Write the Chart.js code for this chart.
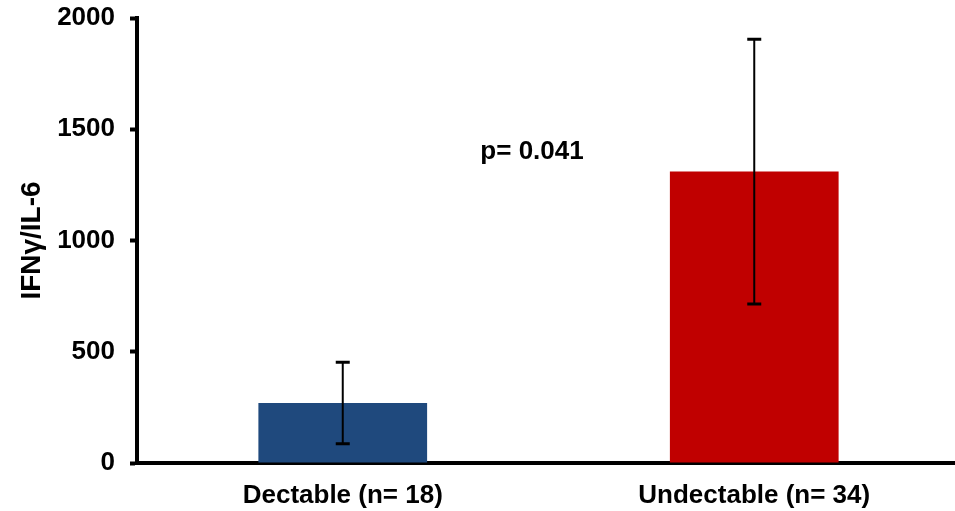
<!DOCTYPE html>
<html>
<head>
<meta charset="utf-8">
<script src="https://cdn.jsdelivr.net/npm/chart.js@4"></script>
<style>
  html, body { margin: 0; padding: 0; background: #fff; overflow: hidden; }
  #wrap { width: 960px; height: 511px; }
</style>
</head>
<body>
<div id="wrap"><canvas id="myChart"></canvas></div>
<script>
const groups = ['Dectable (n= 18)', 'Undectable (n= 34)']
const ratio = [270, 1310]
const ratioErr = [183, 595]
const barColors = ['#1F497D', '#C00000']
const yTicks = [0, 500, 1000, 1500, 2000]
const pLabel = 'p= 0.041'

const fontFamily = '"Liberation Sans", Arial, sans-serif'
const ctx = document.getElementById('myChart')

// whiskers on top of each bar
const errorBars = {
  id: 'errorBars',
  afterDatasetsDraw(chart) {
    const c = chart.ctx
    const y = chart.scales.y
    chart.getDatasetMeta(0).data.forEach((bar, i) => {
      const hi = y.getPixelForValue(ratio[i] + ratioErr[i])
      const lo = y.getPixelForValue(ratio[i] - ratioErr[i])
      c.save()
      c.strokeStyle = '#000'
      c.lineWidth = 2
      c.beginPath()
      c.moveTo(bar.x, hi)
      c.lineTo(bar.x, lo)
      c.stroke()
      c.lineWidth = 3
      c.beginPath()
      c.moveTo(bar.x - 7, hi)
      c.lineTo(bar.x + 7, hi)
      c.moveTo(bar.x - 7, lo)
      c.lineTo(bar.x + 7, lo)
      c.stroke()
      c.restore()
    })
  },
}

// significance text between the groups
const pValue = {
  id: 'pValue',
  afterDraw(chart) {
    const c = chart.ctx
    const x = chart.scales.x.getPixelForValue(0.46)
    const y = chart.scales.y.getPixelForValue(1400)
    c.save()
    c.font = 'bold 26px ' + fontFamily
    c.fillStyle = '#000'
    c.textAlign = 'center'
    c.textBaseline = 'middle'
    c.fillText(pLabel, x, y)
    c.restore()
  },
}

new Chart(ctx, {
  type: 'bar',
  data: {
    labels: groups,
    datasets: [
      {
        data: ratio,
        backgroundColor: barColors,
        borderWidth: 0,
        categoryPercentage: 1,
        barPercentage: 0.41,
      },
    ],
  },
  options: {
    responsive: true,
    maintainAspectRatio: false,
    animation: false,
    layout: { padding: { top: 18, right: 0, bottom: 0, left: 0 } },
    plugins: {
      legend: { display: false },
      tooltip: { enabled: false },
    },
    scales: {
      x: {
        grid: { display: false, drawTicks: false },
        border: { display: true, width: 4, color: '#000' },
        ticks: {
          color: '#000',
          padding: 17,
          font: { family: fontFamily, size: 26, weight: 'bold' },
        },
        afterFit: (s) => { s.height = 48 },
      },
      y: {
        min: 0,
        max: 2000,
        afterBuildTicks: (s) => { s.ticks = yTicks.map((v) => ({ value: v })) },
        grid: {
          drawOnChartArea: false,
          tickLength: 7,
          tickWidth: 4,
          tickColor: '#000',
        },
        border: { display: true, width: 4, color: '#000' },
        ticks: {
          color: '#000',
          padding: 15,
          callback: (v) => String(v),
          font: { family: fontFamily, size: 26, weight: 'bold' },
        },
        title: {
          display: true,
          text: 'IFNγ/IL-6',
          color: '#000',
          padding: { top: 15, bottom: 0 },
          font: { family: fontFamily, size: 28, weight: 'bold' },
        },
        afterFit: (s) => {
          s.width = 137
          s.paddingTop = 0
          s.paddingBottom = 0
        },
      },
    },
  },
  plugins: [errorBars, pValue],
})
</script>
</body>
</html>
